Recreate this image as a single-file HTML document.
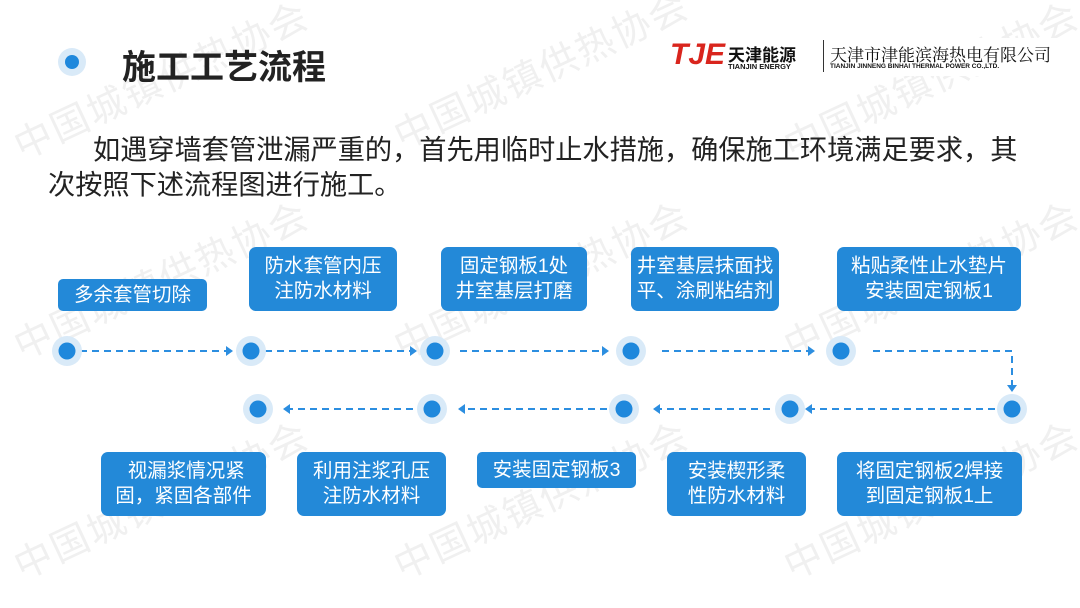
<!DOCTYPE html>
<html><head><meta charset="utf-8"><style>
body{margin:0;width:1080px;height:608px;overflow:hidden;background:#fff;font-family:"Liberation Sans","Noto Sans CJK SC",sans-serif;position:relative}
.wm{position:absolute;color:#f0f0f0;font-size:38px;transform:rotate(-25deg);white-space:nowrap;letter-spacing:2px}
.b{position:absolute;background:#2389d8;color:#fff;border-radius:7px;font-size:19.5px;line-height:25px;text-align:center;display:flex;align-items:center;justify-content:center}
</style></head><body>
<div class="wm" style="left:0;top:50px">中国城镇供热协会</div>
<div class="wm" style="left:380px;top:40px">中国城镇供热协会</div>
<div class="wm" style="left:770px;top:50px">中国城镇供热协会</div>
<div class="wm" style="left:0;top:250px">中国城镇供热协会</div>
<div class="wm" style="left:380px;top:250px">中国城镇供热协会</div>
<div class="wm" style="left:770px;top:250px">中国城镇供热协会</div>
<div class="wm" style="left:0;top:470px">中国城镇供热协会</div>
<div class="wm" style="left:380px;top:470px">中国城镇供热协会</div>
<div class="wm" style="left:770px;top:470px">中国城镇供热协会</div>
<div style="position:absolute;left:58px;top:48px;width:28px;height:28px;border-radius:50%;background:#d9eaf8"></div>
<div style="position:absolute;left:65px;top:55px;width:14px;height:14px;border-radius:50%;background:#1f88dc"></div>
<div style="position:absolute;left:122px;top:40px;font-size:34px;font-weight:bold;color:#222">施工工艺流程</div>
<div style="position:absolute;left:668px;top:38px;width:394px;height:38px;background:#fff">
<span style="position:absolute;left:2px;top:0px;font-size:30px;font-weight:bold;font-style:italic;color:#d9251d">TJE</span>
<span style="position:absolute;left:60px;top:3px;font-size:17px;font-weight:bold;color:#111;white-space:nowrap">天津能源</span>
<span style="position:absolute;left:60px;top:24px;font-size:7.5px;font-weight:bold;color:#111;white-space:nowrap">TIANJIN ENERGY</span>
<span style="position:absolute;left:155px;top:2px;width:1px;height:32px;background:#333"></span>
<span style="position:absolute;left:162px;top:3px;font-size:17px;color:#111;white-space:nowrap;font-family:'Noto Serif CJK SC',serif">天津市津能滨海热电有限公司</span>
<span style="position:absolute;left:162px;top:25px;font-size:6.5px;font-weight:bold;color:#111;white-space:nowrap">TIANJIN JINNENG BINHAI THERMAL POWER CO.,LTD.</span>
</div>
<div style="position:absolute;left:48px;top:132px;font-size:27.2px;line-height:35px;color:#222;width:1000px;text-indent:45px;white-space:nowrap">如遇穿墙套管泄漏严重的，首先用临时止水措施，确保施工环境满足要求，其</div>
<div style="position:absolute;left:48px;top:167px;font-size:27.2px;line-height:35px;color:#222;white-space:nowrap">次按照下述流程图进行施工。</div>
<svg width="1080" height="608" style="position:absolute;left:0;top:0">
<g stroke="#2c8ee0" stroke-width="2" stroke-dasharray="7,5" fill="none">
<path d="M80 351H226M265 351H410M460 351H602M662 351H808M873 351H1012V385"/>
<path d="M995 409H812M770 409H660M607 409H465M413 409H290"/>
</g>
<g fill="#2c8ee0">
<path d="M226 346l7 5-7 5z M410 346l7 5-7 5z M602 346l7 5-7 5z M808 346l7 5-7 5z M1007 385l5 7 5-7z"/>
<path d="M812 404l-7 5 7 5z M660 404l-7 5 7 5z M465 404l-7 5 7 5z M290 404l-7 5 7 5z"/>
</g>
<g fill="#d9eaf8">
<circle cx="67" cy="351" r="15"/><circle cx="251" cy="351" r="15"/><circle cx="435" cy="351" r="15"/><circle cx="631" cy="351" r="15"/><circle cx="841" cy="351" r="15"/>
<circle cx="1012" cy="409" r="15"/><circle cx="790" cy="409" r="15"/><circle cx="624" cy="409" r="15"/><circle cx="432" cy="409" r="15"/><circle cx="258" cy="409" r="15"/>
</g>
<g fill="#1f88dc">
<circle cx="67" cy="351" r="8.5"/><circle cx="251" cy="351" r="8.5"/><circle cx="435" cy="351" r="8.5"/><circle cx="631" cy="351" r="8.5"/><circle cx="841" cy="351" r="8.5"/>
<circle cx="1012" cy="409" r="8.5"/><circle cx="790" cy="409" r="8.5"/><circle cx="624" cy="409" r="8.5"/><circle cx="432" cy="409" r="8.5"/><circle cx="258" cy="409" r="8.5"/>
</g>
</svg>
<div class="b" style="left:58px;top:279px;width:149px;height:32px;border-radius:5px">多余套管切除</div>
<div class="b" style="left:249px;top:247px;width:148px;height:64px">防水套管内压<br>注防水材料</div>
<div class="b" style="left:441px;top:247px;width:146px;height:64px">固定钢板1处<br>井室基层打磨</div>
<div class="b" style="left:631px;top:247px;width:148px;height:64px">井室基层抹面找<br>平、涂刷粘结剂</div>
<div class="b" style="left:837px;top:247px;width:184px;height:64px">粘贴柔性止水垫片<br>安装固定钢板1</div>
<div class="b" style="left:101px;top:452px;width:165px;height:64px">&nbsp;视漏浆情况紧<br>固，紧固各部件</div>
<div class="b" style="left:297px;top:452px;width:149px;height:64px">利用注浆孔压<br>注防水材料</div>
<div class="b" style="left:477px;top:452px;width:159px;height:36px;border-radius:5px">安装固定钢板3</div>
<div class="b" style="left:667px;top:452px;width:139px;height:64px">安装楔形柔<br>性防水材料</div>
<div class="b" style="left:837px;top:452px;width:185px;height:64px">将固定钢板2焊接<br>到固定钢板1上</div>
</body></html>
